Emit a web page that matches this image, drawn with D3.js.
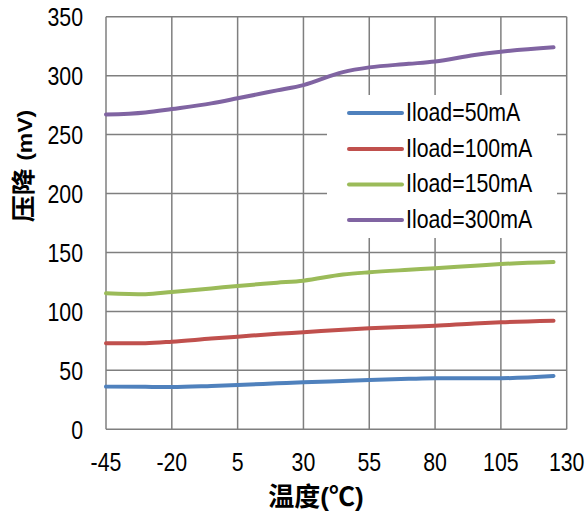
<!DOCTYPE html>
<html>
<head>
<meta charset="utf-8">
<script src="https://cdn.jsdelivr.net/npm/d3@7"></script>
<style>
  html, body { margin: 0; padding: 0; background: #fff; }
  svg { display: block; }
  text { font-family: "Liberation Sans", Arial, "Noto Sans CJK SC", sans-serif; fill: #000; }
</style>
</head>
<body>
<svg id="chart" width="587" height="518"></svg>
<script>
// ---- data ----
const temps = [-45, -30, -20, -5, 5, 20, 30, 45, 55, 70, 80, 95, 105, 125];
const seriesNames = ["Iload=50mA", "Iload=100mA", "Iload=150mA", "Iload=300mA"];
const iload50  = [36.2, 36.0, 35.9, 36.8, 37.6, 39.0, 39.9, 41.0, 41.8, 42.8, 43.3, 43.2, 43.3, 45.2];
const iload100 = [72.9, 73.1, 74.3, 77.0, 78.6, 81.0, 82.3, 84.5, 85.7, 87.0, 87.9, 89.8, 90.8, 92.1];
const iload150 = [115.4, 114.6, 116.5, 119.5, 121.6, 124.3, 126.1, 131.3, 133.2, 135.3, 136.6, 138.8, 140.2, 141.9];
const iload300 = [267.0, 268.8, 271.7, 276.5, 280.8, 287.5, 292.0, 303.0, 307.0, 310.0, 312.0, 317.5, 320.3, 324.0];
const seriesColors = ["#4F81BD", "#C0504D", "#9BBB59", "#8064A2"];
const xTicks = [-45, -20, 5, 30, 55, 80, 105, 130];
const yTicks = [0, 50, 100, 150, 200, 250, 300, 350];

const allSeries = [iload50, iload100, iload150, iload300];

// ---- layout ----
const svg = d3.select("#chart");
const plot = { left: 106, right: 566.7, top: 16.7, bottom: 429.3 };
const narrow = 0.82;

const x = d3.scaleLinear().domain([-45, 130]).range([plot.left, plot.right]);
const y = d3.scaleLinear().domain([0, 350]).range([plot.bottom, plot.top]);

const gridColor = "#7f7f7f";

// grid
const grid = svg.append("g");
grid.selectAll("line.v").data(xTicks).enter().append("line")
  .attr("x1", d => x(d)).attr("x2", d => x(d))
  .attr("y1", plot.top).attr("y2", plot.bottom)
  .attr("stroke", gridColor).attr("stroke-width", 1.5);
grid.selectAll("line.h").data(yTicks).enter().append("line")
  .attr("x1", plot.left).attr("x2", plot.right)
  .attr("y1", d => y(d)).attr("y2", d => y(d))
  .attr("stroke", gridColor).attr("stroke-width", 1.5);

// tick labels
svg.append("g").selectAll("text").data(yTicks).enter().append("text")
  .attr("transform", d => `translate(83,${y(d)}) scale(${narrow},1)`)
  .attr("dy", "0.36em")
  .attr("text-anchor", "end").attr("font-size", 26)
  .text(d => d);
svg.append("g").selectAll("text").data(xTicks).enter().append("text")
  .attr("transform", d => `translate(${x(d)},461.5) scale(${narrow},1)`)
  .attr("dy", "0.36em")
  .attr("text-anchor", "middle").attr("font-size", 26)
  .text(d => d);

// axis titles
const xt = svg.append("text")
  .attr("transform", "translate(316,497)")
  .attr("dy", "0.36em").attr("text-anchor", "middle")
  .attr("font-size", 26).attr("font-weight", "bold");
xt.append("tspan").text("温度");
xt.append("tspan").text("(℃)");

const yt = svg.append("text")
  .attr("transform", "translate(23,166) rotate(-90) scale(1,0.9)")
  .attr("dy", "0.36em").attr("text-anchor", "middle")
  .attr("font-size", 27).attr("font-weight", "bold");
yt.append("tspan").text("压降 ");
yt.append("tspan").attr("font-size", 23).text("(mV)");

// lines
const line = d3.line()
  .x((d, i) => x(temps[i]))
  .y(d => y(d))
  .curve(d3.curveMonotoneX);

svg.append("g").selectAll("path").data(allSeries).enter().append("path")
  .attr("d", d => line(d))
  .attr("fill", "none")
  .attr("stroke", (d, i) => seriesColors[i])
  .attr("stroke-width", 4)
  .attr("stroke-linecap", "round")
  .attr("stroke-linejoin", "round");

// legend
const legend = svg.append("g");
legend.append("rect")
  .attr("x", 327).attr("y", 95).attr("width", 230).attr("height", 143)
  .attr("fill", "#fff");
const rows = [113, 149, 184.5, 220];
const items = legend.selectAll("g.item").data(seriesNames).enter().append("g");
items.append("line")
  .attr("x1", 349).attr("x2", 402)
  .attr("y1", (d, i) => rows[i]).attr("y2", (d, i) => rows[i])
  .attr("stroke", (d, i) => seriesColors[i])
  .attr("stroke-width", 4).attr("stroke-linecap", "round");
items.append("text")
  .attr("transform", (d, i) => `translate(406,${rows[i]}) scale(${narrow},1)`)
  .attr("dy", "0.3em")
  .attr("font-size", 26)
  .text(d => d);
</script>
</body>
</html>
